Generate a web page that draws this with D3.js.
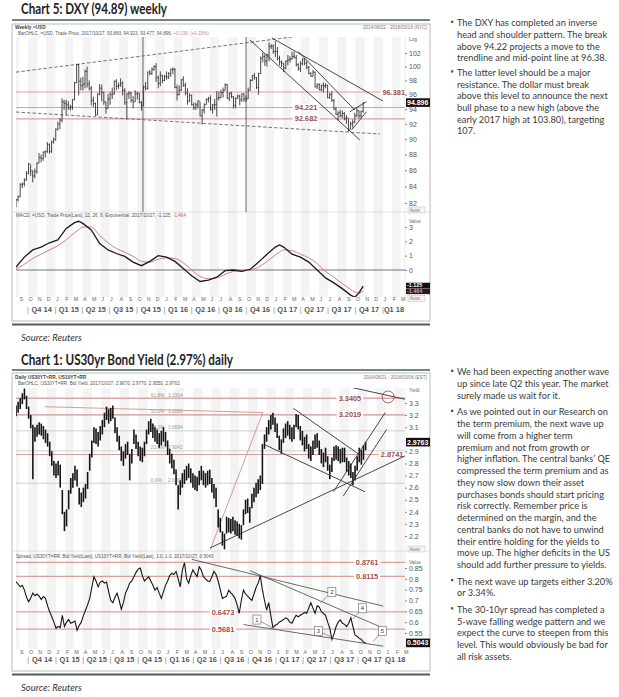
<!DOCTYPE html>
<html><head><meta charset="utf-8">
<script src="https://cdn.jsdelivr.net/npm/d3@7/dist/d3.min.js"></script>
<style>html,body{margin:0;padding:0;background:#fff;}svg{display:block;}</style>
</head><body>
<svg width="619" height="697" xmlns="http://www.w3.org/2000/svg"></svg>
<script>
// ================= DATA =================
// Chart 5: DXY weekly bars (week 0 = 2014-08-22)
const dxyStart = "2014-08-22";
const dxyClose = [82.38,82.75,84.2,84.3,84.8,85.6,86.8,85.9,85.3,85.8,86.9,87.6,87.5,88.3,88.4,89.3,88.4,89.6,89.9,
91.3,92.0,92.5,95.0,94.8,94.6,94.2,94.3,95.3,97.7,100.3,97.9,97.3,97.5,99.3,97.5,96.9,95.2,94.8,93.2,96.1,96.9,96.3,95.0,94.1,95.4,96.0,96.1,97.9,97.2,97.3,97.6,96.6,94.9,96.1,96.2,95.2,95.0,96.1,96.2,94.9,94.5,97.1,96.9,99.2,99.0,99.6,100.0,98.4,97.6,98.7,98.0,
98.6,98.5,99.0,99.6,99.6,97.0,96.0,96.6,98.1,97.3,96.2,95.1,95.9,94.6,94.2,94.6,95.1,93.1,93.9,94.6,95.3,95.5,94.0,94.6,94.6,95.5,95.6,96.3,96.6,97.4,95.5,96.2,95.7,94.5,95.5,95.8,95.3,96.1,95.4,95.4,96.6,98.0,98.7,98.4,97.0,99.0,101.2,101.5,100.8,101.7,103.0,103.0,102.2,
102.2,101.2,100.7,100.5,99.8,100.8,101.0,101.1,101.5,101.3,100.3,99.7,100.4,101.1,100.5,99.9,99.0,98.6,99.2,97.1,97.4,96.7,97.3,97.2,97.3,95.6,96.0,95.2,94.0,93.3,93.5,93.1,93.4,92.7,92.8,91.3,92.0,92.2,93.1,93.8,93.1,93.7,94.9];
const dxyHigh = [82.5,82.9,84.4,84.5,85.0,85.9,86.9,86.7,86.0,86.2,87.0,88.2,88.0,88.4,88.5,89.6,89.4,89.8,90.2,
91.4,92.3,92.8,95.5,95.3,95.3,95.1,94.6,95.4,97.8,100.4,100.4,98.4,98.5,99.6,100.0,98.0,97.2,95.7,94.9,96.2,97.5,97.4,96.4,95.0,96.1,96.4,97.0,98.0,98.2,97.7,98.3,97.9,96.9,96.2,96.5,96.4,95.8,96.6,96.4,96.2,95.1,97.3,97.8,99.3,99.5,99.9,100.2,100.5,98.7,99.3,98.8,
98.8,99.3,99.2,99.7,99.9,99.8,97.4,97.3,98.2,98.6,97.7,96.9,96.2,96.0,94.9,94.9,95.2,95.0,94.0,94.8,95.5,95.7,95.9,94.7,95.4,96.5,96.4,96.7,97.0,97.6,97.5,96.3,96.4,95.8,95.6,96.0,96.0,96.2,96.2,95.9,97.0,98.2,98.8,99.1,98.5,99.1,101.5,102.1,101.8,101.9,103.6,103.3,103.3,
103.8,102.9,101.6,100.9,100.5,100.9,101.7,101.5,102.2,102.2,101.7,100.5,100.8,101.2,101.2,100.8,100.1,99.2,99.5,99.3,97.6,97.6,97.4,97.7,97.6,97.4,96.3,96.5,95.4,94.3,93.7,93.9,93.8,93.6,93.2,92.7,92.3,92.6,93.5,94.2,93.8,93.8,94.9];
const dxyLow = [81.5,82.2,82.7,83.8,84.0,84.7,85.5,85.3,84.5,85.0,85.6,86.9,87.0,87.2,87.6,88.2,88.1,88.2,89.4,
89.8,91.1,91.3,92.2,93.9,93.2,93.9,93.8,93.9,95.2,97.6,95.9,96.6,96.6,96.9,97.0,96.6,94.5,94.3,93.1,93.2,95.9,95.1,94.6,93.4,94.1,94.6,95.4,96.0,96.6,96.8,97.1,95.9,94.6,92.6,95.4,94.9,94.1,95.0,95.3,94.8,93.8,94.4,96.6,96.7,98.7,98.8,99.4,97.8,96.9,97.2,97.6,
97.9,98.1,98.2,98.5,98.9,96.9,95.2,95.9,96.5,97.1,95.9,94.6,95.0,94.5,93.9,93.9,94.1,93.0,91.9,93.4,94.6,94.9,93.8,93.4,93.9,93.0,95.2,95.5,95.6,96.6,95.4,95.1,95.5,94.1,94.1,95.4,94.5,95.0,95.0,95.0,95.4,96.6,97.9,98.1,96.8,96.0,98.9,100.6,100.1,100.0,100.8,102.6,101.9,
101.4,100.9,100.2,99.9,99.2,99.6,100.2,100.6,101.0,101.2,100.0,99.4,99.2,100.2,100.2,99.6,98.9,98.5,98.6,97.0,96.8,96.6,96.5,96.3,96.9,95.5,95.4,95.0,93.9,93.2,92.5,92.9,92.8,92.5,92.0,91.0,91.3,91.5,92.1,92.9,92.7,92.8,93.5];
const dxyTicks = [82,84,86,88,90,92,94,96,98,100,102];
const dxyLevels = [96.381, 94.221, 92.682];
const dxyLevelLabelDates = ["2018-03-16","2017-04-19","2017-04-19"];
const dxyMarkers = ["2015-10-21","2016-09-30"];
const dxyTrends = [
  {d1:"2014-08-22",v1:99.2, d2:"2017-08-04",v2:105.3, dash:true},
  {d1:"2014-08-22",v1:93.6, d2:"2017-12-22",v2:90.66, dash:true},
  {d1:"2016-10-13",v1:103.95,d2:"2017-10-16",v2:89.87},
  {d1:"2016-12-26",v1:104.25,d2:"2018-01-01",v2:95.12},
  {d1:"2017-03-24",v1:102.2, d2:"2017-09-29",v2:93.88},
  {d1:"2017-09-12",v1:93.64, d2:"2017-11-07",v2:95.02},
  {d1:"2017-09-18",v1:91.18, d2:"2017-11-07",v2:93.64}
];
// MACD (12,26,9), by week index
const macdWeeks  = [0,4,8,12,16,20,24,28,30,32,36,40,44,48,52,56,60,64,68,72,76,80,84,88,92,96,100,104,108,112,116,120,124,126,128,132,136,140,144,148,152,156,160,162,164,166];
const macdLine   = [0.2,0.9,1.4,1.6,1.9,2.1,2.9,3.3,3.4,3.25,2.8,1.85,1.4,1.15,0.95,0.55,0.3,0.6,1.0,0.9,0.6,0.1,-0.4,-0.8,-0.7,-0.5,-0.05,0.0,-0.1,0.05,0.55,1.1,1.6,1.75,1.6,1.1,0.9,0.55,0.0,-0.55,-0.9,-1.3,-1.75,-1.9,-1.6,-1.125];
const macdSignal = [0.05,0.4,0.8,1.1,1.4,1.7,2.1,2.6,2.8,3.0,3.0,2.4,1.9,1.5,1.25,0.95,0.6,0.55,0.75,0.85,0.8,0.5,0.0,-0.45,-0.6,-0.55,-0.3,-0.1,-0.05,0.0,0.2,0.6,1.05,1.25,1.4,1.35,1.1,0.85,0.45,-0.1,-0.5,-0.95,-1.35,-1.55,-1.6,-1.464];
const macdTicks = [0,1,2,3];

// Chart 1: US30yr yield, weekly high/low (week 0 = 2014-08-21)
const ustStart = "2014-08-21";
const ustHigh = [3.28,3.31,3.34,3.38,3.42,3.36,3.27,3.20,3.12,3.10,3.12,3.14,3.13,3.11,3.08,3.05,2.98,2.90,2.82,2.80,2.82,2.79,2.58,2.40,2.42,2.58,2.68,2.72,2.78,2.75,2.60,2.56,2.60,2.63,2.73,2.88,2.99,3.10,3.09,3.06,3.11,3.16,3.22,3.27,3.25,3.26,3.28,3.18,3.10,3.03,2.94,2.90,2.96,2.98,2.88,2.92,3.08,3.04,2.98,2.94,2.93,2.98,3.08,3.15,3.17,3.13,3.10,3.08,3.05,3.07,3.10,3.06,2.99,2.92,2.88,2.83,2.75,2.62,2.66,2.72,2.75,2.78,2.80,2.76,2.72,2.70,2.69,2.74,2.78,2.74,2.72,2.74,2.75,2.68,2.63,2.60,2.42,2.35,2.24,2.22,2.36,2.35,2.34,2.36,2.33,2.32,2.30,2.29,2.42,2.50,2.51,2.44,2.55,2.60,2.64,2.67,2.70,2.96,3.04,3.10,3.16,3.20,3.22,3.18,3.13,3.03,3.00,3.09,3.13,3.15,3.12,3.10,3.12,3.21,3.20,3.11,3.07,3.02,3.04,2.96,2.94,2.99,3.04,3.05,2.99,2.92,2.89,2.93,2.86,2.79,2.85,2.94,2.95,2.94,2.92,2.93,2.93,2.85,2.82,2.80,2.73,2.78,2.86,2.93,2.91,2.95,2.98];
const ustLow = [3.19,3.22,3.25,3.29,3.33,3.25,3.17,3.09,2.67,2.98,3.02,3.04,3.03,3.00,2.97,2.94,2.86,2.78,2.70,2.68,2.70,2.60,2.38,2.24,2.28,2.42,2.55,2.60,2.66,2.61,2.46,2.44,2.48,2.51,2.59,2.74,2.85,2.97,2.96,2.94,2.99,3.04,3.10,3.16,3.13,3.15,3.17,3.05,2.98,2.91,2.82,2.78,2.84,2.87,2.66,2.80,2.96,2.92,2.86,2.82,2.81,2.86,2.96,3.04,3.06,3.01,2.98,2.96,2.93,2.95,2.98,2.94,2.87,2.80,2.76,2.71,2.62,2.42,2.54,2.60,2.63,2.66,2.68,2.64,2.60,2.58,2.57,2.62,2.66,2.62,2.60,2.62,2.63,2.56,2.51,2.44,2.27,2.23,2.12,2.09,2.22,2.23,2.22,2.24,2.21,2.20,2.18,2.17,2.29,2.38,2.39,2.31,2.43,2.48,2.52,2.55,2.58,2.63,2.92,2.98,3.04,3.08,3.12,3.06,3.01,2.91,2.88,2.97,3.01,3.03,3.00,2.98,3.00,3.10,3.08,2.99,2.95,2.90,2.92,2.84,2.82,2.87,2.92,2.93,2.87,2.80,2.77,2.81,2.74,2.67,2.73,2.82,2.83,2.82,2.80,2.81,2.81,2.73,2.70,2.68,2.62,2.66,2.74,2.81,2.79,2.83,2.91];
const ustTicks = [2.2,2.3,2.4,2.5,2.6,2.7,2.8,2.9,3.1,3.2,3.3];
const ustLast = 2.9763;
const ustLevels = [3.3405, 3.2019, 2.8741];
const ustLevelLabelDates = ["2017-09-04","2017-09-04","2018-01-22"];
const fibPct  = ["61.8%","50.0%","38.2%","23.6%","0.0%"];
const fibVals = [3.3364, 3.2028, 3.0694, 2.9042, 2.6367];
const ustRedTrends = [
  {d1:"2014-11-25",v1:3.269,d2:"2016-11-19",v2:3.2214},
  {d1:"2016-05-27",v1:2.084,d2:"2016-11-19",v2:3.2256}
];
const ustTrends = [
  {d1:"2016-05-27",v1:2.101,d2:"2018-03-13",v2:2.870},
  {d1:"2017-02-28",v1:3.256,d2:"2017-10-08",v2:2.868},
  {d1:"2016-11-26",v1:2.953,d2:"2017-10-24",v2:2.566},
  {d1:"2017-07-11",v1:2.566,d2:"2017-12-30",v2:3.220},
  {d1:"2017-08-13",v1:2.531,d2:"2018-01-04",v2:3.082},
  {d1:"2017-06-30",v1:3.468,d2:"2018-03-17",v2:3.325}
];
const ustCircle = {d:"2018-01-09", v:3.35};
// 30y-10y spread, weekly (week 0 = 2014-08-21)
const spreadVals = [0.787,0.775,0.763,0.770,0.748,0.715,0.694,0.712,0.734,0.722,0.730,0.720,0.705,0.718,0.710,0.675,0.648,0.625,0.600,0.572,0.580,0.575,0.632,0.580,0.600,0.612,0.595,0.600,0.605,0.563,0.585,0.600,0.630,0.655,0.680,0.710,0.760,0.810,0.790,0.763,0.785,0.790,0.780,0.785,0.740,0.700,0.690,0.715,0.734,0.700,0.660,0.690,0.734,0.755,0.780,0.790,0.810,0.830,0.845,0.850,0.815,0.790,0.800,0.810,0.790,0.770,0.748,0.760,0.734,0.710,0.740,0.770,0.790,0.815,0.826,0.820,0.834,0.800,0.763,0.840,0.875,0.800,0.780,0.815,0.842,0.825,0.810,0.856,0.840,0.810,0.800,0.790,0.787,0.810,0.834,0.820,0.790,0.750,0.710,0.715,0.720,0.748,0.735,0.725,0.710,0.680,0.641,0.700,0.748,0.730,0.720,0.710,0.700,0.730,0.760,0.780,0.814,0.750,0.700,0.656,0.690,0.630,0.575,0.585,0.590,0.600,0.605,0.612,0.620,0.615,0.600,0.595,0.615,0.632,0.625,0.632,0.638,0.645,0.641,0.665,0.690,0.665,0.641,0.675,0.670,0.648,0.640,0.632,0.600,0.572,0.520,0.545,0.580,0.600,0.610,0.595,0.590,0.580,0.595,0.620,0.580,0.540,0.535,0.525,0.520,0.508,0.504];
const spreadTicks = [0.55,0.6,0.65,0.7,0.75,0.8,0.85];
const spreadLast = 0.5043;
const spreadLevels = [0.8761, 0.8115, 0.6473, 0.5681];
const spreadLevelLabelDates = ["2017-10-31","2017-10-31","2016-07-09","2016-07-09"];
const spreadTrends = [
  {d1:"2016-03-27",v1:0.890,d2:"2017-12-24",v2:0.674},
  {d1:"2016-10-07",v1:0.8375,d2:"2017-12-19",v2:0.5755},
  {d1:"2016-09-15",v1:0.589,d2:"2017-12-24",v2:0.489}
];
const waveLabels = [
  {t:"1",d:"2016-10-30",v:0.612,ld:"2016-12-19",lv:0.575},
  {t:"2",d:"2017-07-06",v:0.739,ld:"2017-05-28",lv:0.688},
  {t:"3",d:"2017-05-22",v:0.560,ld:"2017-07-10",lv:0.527},
  {t:"4",d:"2017-10-15",v:0.664,ld:"2017-09-14",lv:0.614},
  {t:"5",d:"2017-12-21",v:0.560,ld:"2017-11-20",lv:0.510}
];

// Text
const notesTop = [
 ["The DXY has completed an inverse","head and shoulder pattern. The break","above 94.22 projects a move to the","trendline and mid-point line at 96.38."],
 ["The latter level should be a major","resistance. The dollar must break","above this level to announce the next","bull phase to a new high (above the","early 2017 high at 103.80), targeting","107."]
];
const notesBottom = [
 ["We had been expecting another wave","up since late Q2 this year. The market","surely made us wait for it."],
 ["As we pointed out in our Research on","the term premium, the next wave up","will come from a higher term","premium and not from growth or","higher inflation. The central banks\u2019 QE","compressed the term premium and as","they now slow down their asset","purchases bonds should start pricing","risk correctly. Remember price is","determined on the margin, and the","central banks do not have to unwind","their entire holding for the yields to","move up. The higher deficits in the US","should add further pressure to yields."],
 ["The next wave up targets either 3.20%","or 3.34%."],
 ["The 30-10yr spread has completed a","5-wave falling wedge pattern and we","expect the curve to steepen from this","level. This would obviously be bad for","all risk assets."]
];

// ================= DRAWING =================
const F = "Liberation Sans";
const svg = d3.select("svg");
const P = d3.timeParse("%Y-%m-%d");
const defs = svg.append("defs");
function clip(id,x,y,w,h){defs.append("clipPath").attr("id",id).append("rect").attr("x",x).attr("y",y).attr("width",w).attr("height",h);}
function txt(g,x,y,s,o={}){
  const t=g.append("text").attr("x",x).attr("y",y).text(s)
    .attr("font-family",o.f||F).attr("font-size",o.s||6).attr("fill",o.c||"#444");
  if(o.w) t.attr("font-weight",o.w);
  if(o.a) t.attr("text-anchor",o.a);
  if(o.i) t.attr("font-style","italic");
  if(o.tl) t.attr("textLength",o.tl).attr("lengthAdjust","spacingAndGlyphs");
  return t;
}
const RED_LINE="#dc9f9f", RED_TXT="#a24c4c";

// scales
const xA = d3.scaleTime().domain([P("2014-08-22"),P("2018-03-16")]).range([16,405]);
const yA = d3.scaleLog().domain([82,102]).range([203,53]);
const yM = d3.scaleLinear().domain([0,3]).range([270,227]);
const xB = d3.scaleTime().domain([P("2014-08-21"),P("2018-03-06")]).range([16,405]);
const yB = d3.scaleLinear().domain([2.2,3.3]).range([536,403]);
const yS = d3.scaleLinear().domain([0.55,0.85]).range([633,568]);

clip("cA",16,37,389,175); clip("cM",16,212,389,85);
clip("cB",16,388,389,163); clip("cS",16,552,389,97);
clip("cR",0,0,430,697);

function stripes(x,y0,y1){
  const g=svg.append("g");
  const [d0,d1]=x.domain();
  d3.timeMonth.range(d3.timeMonth.floor(d0),d1).forEach(m=>{
    if(m.getMonth()%2===1){
      const a=Math.max(x(m),x.range()[0]), b=Math.min(x(d3.timeMonth.offset(m,1)),x.range()[1]);
      if(b>a) g.append("rect").attr("x",a).attr("y",y0).attr("width",b-a).attr("height",y1-y0).attr("fill","#f3f3f3");
    }
  });
}
function timeLabels(x,yM_,yQ){
  const g=svg.append("g");
  const [d0,d1]=x.domain();
  d3.timeMonth.range(d3.timeMonth.ceil(d0),d1).forEach(m=>{
    txt(g,x(m)+0.6,yM_,"JFMAMJJASOND"[m.getMonth()],{s:5.4,c:"#666"});
  });
  d3.timeMonth.every(3).range(d3.timeMonth.ceil(d0),d1).forEach(q=>{
    const qe=d3.timeMonth.offset(q,3);
    const cx=(x(q)+x(qe<d1?qe:d1))/2;
    const lab="Q"+(Math.floor(q.getMonth()/3)+1)+" "+String(q.getFullYear()).slice(2);
    txt(g,cx,yQ,lab,{s:7.4,w:"bold",c:"#555",a:"middle"});
    txt(g,x(q),yQ,"|",{s:7.4,c:"#888",a:"middle"});
  });
}
function yAxis(scale,ticks,fmt){
  const g=svg.append("g").attr("transform","translate(405,0)")
    .call(d3.axisRight(scale).tickValues(ticks).tickFormat(fmt).tickSize(2).tickPadding(2));
  g.attr("font-family",F).attr("font-size",7);
  g.select(".domain").remove();
  g.selectAll("text").attr("fill","#555");
  g.selectAll("line").attr("stroke","#888");
}
function hLevels(clipId,x,y,vals,labelDates,anchors){
  const g=svg.append("g").attr("clip-path","url(#"+clipId+")");
  vals.forEach((v,i)=>{
    g.append("line").attr("x1",x.range()[0]).attr("x2",x.range()[1]).attr("y1",y(v)).attr("y2",y(v))
      .attr("stroke",RED_LINE).attr("stroke-width",1.1);
  });
  const gl=svg.append("g");
  vals.forEach((v,i)=>{
    const t=txt(gl,x(P(labelDates[i])),y(v)+2.6,v.toFixed(v>10?3:4),{s:7.4,w:"bold",c:RED_TXT,a:anchors[i]});
    const bb=t.node().getBBox();
    gl.insert("rect","text").attr("x",bb.x-2).attr("y",y(v)-3).attr("width",bb.width+4).attr("height",6).attr("fill","#fff");
  });
}
function trendLines(g,x,y,list,color,w){
  list.forEach(t=>{
    const l=g.append("line").attr("x1",x(P(t.d1))).attr("y1",y(t.v1)).attr("x2",x(P(t.d2))).attr("y2",y(t.v2))
      .attr("stroke",color).attr("stroke-width",w||0.9);
    if(t.dash) l.attr("stroke-dasharray","3.5,2").attr("stroke","#666");
  });
}
function tag(g,yc,label,fill,tc,h,fs){
  h=h||8.6; fs=fs||7;
  g.append("rect").attr("x",406).attr("y",yc-h/2).attr("width",26).attr("height",h).attr("fill",fill);
  txt(g,407,yc+fs*0.36,label,{s:fs,w:"bold",c:tc});
}
function autoBox(y){
  const g=svg.append("g");
  g.append("rect").attr("x",408).attr("y",y-5).attr("width",17).attr("height",6).attr("fill","#f4f4f4").attr("stroke","#bbb").attr("stroke-width",0.5);
  txt(g,409.5,y-0.3,"Auto",{s:5,c:"#777"});
}

// ---------- Titles, rules, frames ----------
txt(svg,21,13.8,"Chart 5: DXY (94.89) weekly",{f:"Lato",s:14.5,w:"bold",c:"#222",tl:146});
svg.append("line").attr("x1",12).attr("x2",430).attr("y1",20).attr("y2",20).attr("stroke","#71877b").attr("stroke-width",2);
txt(svg,21,364.5,"Chart 1: US30yr Bond Yield (2.97%) daily",{f:"Lato",s:14.5,w:"bold",c:"#222",tl:212});
svg.append("line").attr("x1",12).attr("x2",430).attr("y1",370).attr("y2",370).attr("stroke","#71877b").attr("stroke-width",2);

// ================= CHART A (DXY) =================
stripes(xA,37,297);
svg.append("rect").attr("x",12).attr("y",24).attr("width",418).attr("height",297).attr("fill","none").attr("stroke","#aaa").attr("stroke-width",0.8);
svg.append("line").attr("x1",12).attr("x2",430).attr("y1",212).attr("y2",212).attr("stroke","#ccc").attr("stroke-width",0.6);
svg.append("line").attr("x1",405).attr("x2",405).attr("y1",37).attr("y2",297).attr("stroke","#ddd").attr("stroke-width",0.6);
txt(svg,15,28.8,"Weekly =USD",{s:4.8,w:"bold",c:"#444"});
txt(svg,427,28.8,"2014/08/22 - 2018/03/16 (NYC)",{s:4.6,c:"#777",a:"end"});
{
  const t=txt(svg,18,35,"BarOHLC, =USD, Trade Price, 2017/10/27, 93.883, 94.923, 93.477, 94.896, ",{s:4.6,c:"#555"});
  t.append("tspan").attr("fill","#d08a8a").text("+0.139, (+0.15%)");
}
txt(svg,409,41,"Log",{s:4.8,c:"#666"});
hLevels("cA",xA,yA,dxyLevels,dxyLevelLabelDates,["end","middle","middle"]);
{
  const g=svg.append("g").attr("clip-path","url(#cA)");
  dxyMarkers.forEach(d=>g.append("line").attr("x1",xA(P(d))).attr("x2",xA(P(d))).attr("y1",30).attr("y2",212).attr("stroke","#555").attr("stroke-width",0.9));
  trendLines(g,xA,yA,dxyTrends,"#333",0.9);
  const s0=P(dxyStart);
  dxyClose.forEach((c,i)=>{
    const x=xA(d3.timeDay.offset(s0,7*i));
    const o=i>0?dxyClose[i-1]:82.0;
    g.append("line").attr("x1",x).attr("x2",x).attr("y1",yA(dxyHigh[i])).attr("y2",yA(dxyLow[i])).attr("stroke","#333").attr("stroke-width",0.9);
    g.append("line").attr("x1",x-1).attr("x2",x).attr("y1",yA(o)).attr("y2",yA(o)).attr("stroke","#333").attr("stroke-width",0.8);
    g.append("line").attr("x1",x).attr("x2",x+1).attr("y1",yA(c)).attr("y2",yA(c)).attr("stroke","#333").attr("stroke-width",0.8);
  });
}
yAxis(yA,dxyTicks,d3.format("d"));
autoBox(212);
// MACD panel
{
  const t=txt(svg,16,217,"MACD, =USD, Trade Price(Last), 12, 26, 9, Exponential, 2017/10/27, -1.125, ",{s:4.6,c:"#555"});
  t.append("tspan").attr("fill","#d06060").text("-1.464");
  txt(svg,409,222.5,"Value",{s:4.8,c:"#666"});
  const g=svg.append("g").attr("clip-path","url(#cM)");
  g.append("line").attr("x1",16).attr("x2",405).attr("y1",yM(0)).attr("y2",yM(0)).attr("stroke","#666").attr("stroke-width",0.9);
  const s0=P(dxyStart);
  const lx=(w)=>xA(d3.timeDay.offset(s0,7*w));
  g.append("path").datum(macdSignal).attr("fill","none").attr("stroke","#d08080").attr("stroke-width",1)
    .attr("d",d3.line().x((d,i)=>lx(macdWeeks[i])).y(d=>yM(d)).curve(d3.curveMonotoneX));
  g.append("path").datum(macdLine).attr("fill","none").attr("stroke","#1a1a1a").attr("stroke-width",1.3)
    .attr("d",d3.line().x((d,i)=>lx(macdWeeks[i])).y(d=>yM(d)));
}
yAxis(yM,macdTicks,d3.format("d"));
{
  const g=svg.append("g").attr("clip-path","url(#cR)");
  tag(g,yA(dxyClose[dxyClose.length-1]),"94.896","#111","#fff");
  const yc=yM(macdLine[macdLine.length-1]);
  tag(g,yc-0.6,"-1.125","#111","#fff",5.6,5.4);
  tag(g,yc+5.2,"-1.464","#2a1a1a","#e0a0a0",5.6,5.4);
}
autoBox(300.5);
timeLabels(xA,301,311.5);
svg.append("line").attr("x1",12).attr("x2",430).attr("y1",324.5).attr("y2",324.5).attr("stroke","#4f5f56").attr("stroke-width",1.8);
txt(svg,21,341,"Source: Reuters",{f:"Lato",s:9.5,i:true,c:"#333"});

// ================= CHART B (US30yr) =================
stripes(xB,388,649);
svg.append("rect").attr("x",12).attr("y",373).attr("width",418).attr("height",298).attr("fill","none").attr("stroke","#aaa").attr("stroke-width",0.8);
svg.append("line").attr("x1",12).attr("x2",430).attr("y1",551).attr("y2",551).attr("stroke","#ccc").attr("stroke-width",0.6);
svg.append("line").attr("x1",405).attr("x2",405).attr("y1",388).attr("y2",649).attr("stroke","#ddd").attr("stroke-width",0.6);
txt(svg,15,378.5,"Daily US30YT=RR, US10YT=RR",{s:4.8,w:"bold",c:"#444"});
txt(svg,427,378.5,"2014/08/21 - 2018/03/06 (EST)",{s:4.6,c:"#777",a:"end"});
txt(svg,18,385,"BarOHLC, US30YT=RR, Bid Yield, 2017/10/27, 2.9670, 2.9770, 2.9550, 2.9763",{s:4.6,c:"#555"});
txt(svg,409,392,"Yield",{s:4.8,c:"#666"});
{
  const g=svg.append("g").attr("clip-path","url(#cB)");
  fibVals.forEach((v,i)=>{
    g.append("line").attr("x1",16).attr("x2",405).attr("y1",yB(v)).attr("y2",yB(v)).attr("stroke","#c4c4c4").attr("stroke-width",0.8);
    txt(g,xB(P("2015-11-12")),yB(v)-1.5,fibPct[i],{s:4.8,c:"#999"});
    txt(g,xB(P("2016-01-08")),yB(v)-1.5,fibVals[i].toFixed(4),{s:4.8,c:"#999"});
  });
}
hLevels("cB",xB,yB,ustLevels,ustLevelLabelDates,["middle","middle","middle"]);
{
  const g=svg.append("g").attr("clip-path","url(#cB)");
  trendLines(g,xB,yB,ustRedTrends,"#d49090",0.9);
  const s0=P(ustStart);
  ustHigh.forEach((h,i)=>{
    const x=xB(d3.timeDay.offset(s0,7*i));
    g.append("line").attr("x1",x).attr("x2",x).attr("y1",yB(h)).attr("y2",yB(ustLow[i])).attr("stroke","#151515").attr("stroke-width",1.6);
  });
  trendLines(g,xB,yB,ustTrends,"#333",0.9);
}
{
  const g=svg.append("g").attr("clip-path","url(#cR)");
  g.append("circle").attr("cx",xB(P(ustCircle.d))).attr("cy",yB(ustCircle.v)).attr("r",6).attr("fill","none").attr("stroke","#a04848").attr("stroke-width",0.9);
}
yAxis(yB,ustTicks,d3.format(".1f"));
autoBox(551);
// spread panel
{
  txt(svg,16,557.5,"Spread, US30YT=RR, Bid Yield(Last), US10YT=RR, Bid Yield(Last), 1.0, 1.0, 2017/10/27, 0.5043",{s:4.6,c:"#555"});
  txt(svg,409,563.5,"Value",{s:4.8,c:"#666"});
}
hLevels("cS",xB,yS,spreadLevels,spreadLevelLabelDates,["middle","middle","middle","middle"]);
{
  const g=svg.append("g").attr("clip-path","url(#cS)");
  const s0=P(ustStart);
  g.append("path").datum(spreadVals).attr("fill","none").attr("stroke","#151515").attr("stroke-width",1.1)
    .attr("d",d3.line().x((d,i)=>xB(d3.timeDay.offset(s0,7*i))).y(d=>yS(d)));
  trendLines(g,xB,yS,spreadTrends,"#444",0.8);
  waveLabels.forEach(w=>{
    const x=xB(P(w.d)), y=yS(w.v);
    g.append("line").attr("x1",x).attr("y1",y).attr("x2",xB(P(w.ld))).attr("y2",yS(w.lv)).attr("stroke","#555").attr("stroke-width",0.6);
    g.append("rect").attr("x",x-4).attr("y",y-4.5).attr("width",8).attr("height",9).attr("fill","#fff").attr("stroke","#666").attr("stroke-width",0.6);
    txt(g,x,y+2,w.t,{s:5.8,c:"#333",a:"middle"});
  });
}
yAxis(yS,spreadTicks,d=>String(d));
{
  const g=svg.append("g").attr("clip-path","url(#cR)");
  tag(g,yB(ustLast),"2.9763","#111","#fff");
  tag(g,yS(spreadLast),"0.5043","#111","#fff");
}
timeLabels(xB,653.5,661.5);
svg.append("line").attr("x1",12).attr("x2",430).attr("y1",674.5).attr("y2",674.5).attr("stroke","#4f5f56").attr("stroke-width",1.8);
txt(svg,21,690.5,"Source: Reuters",{f:"Lato",s:9.5,i:true,c:"#333"});

// ================= NOTES =================
function notes(blocks,y0,lh,gap){
  const g=svg.append("g");
  const probe=txt(g,0,-50,"above this level to announce the next",{f:"Lato",s:10});
  const fs=10*151/probe.node().getComputedTextLength();
  probe.remove();
  let y=y0;
  blocks.forEach((b,bi)=>{
    if(bi>0) y+=gap;
    g.append("rect").attr("x",451).attr("y",y-2.3).attr("width",2.3).attr("height",2.3).attr("fill","#555");
    b.forEach((line,li)=>{
      txt(g,457,y+3.4,line,{f:"Lato",s:fs,c:"#3a3a3a"});
      y+=lh;
    });
    y-=lh;
  });
}
notes(notesTop,23,11.65,14.6);
notes(notesBottom,372,11.75,16.5);
</script>
</body></html>
